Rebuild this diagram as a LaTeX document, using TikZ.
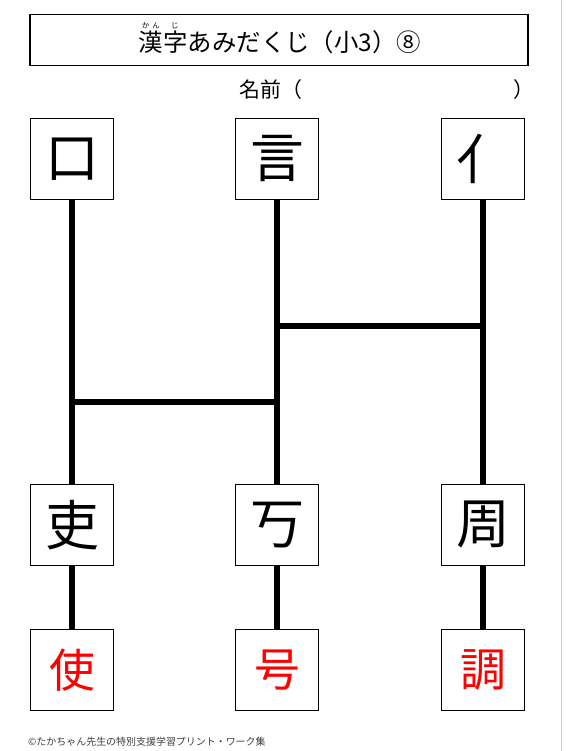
\documentclass[tikz,border=0pt]{standalone}
\usepackage{fontspec}
\setmainfont{Noto Sans CJK JP}
\usetikzlibrary{positioning}

\begin{document}
\begin{tikzpicture}[x=1bp,y=-1bp,
  tbox/.style={rectangle,draw=black,line width=1.2bp,minimum width=498bp,minimum height=51bp,inner sep=0pt},
  kbox/.style={rectangle,draw=black,fill=white,line width=1.4bp,minimum width=83bp,minimum height=81bp,inner sep=0pt,font=\fontsize{54}{54}\selectfont},
  abox/.style={kbox,text=red,font=\fontsize{46}{46}\selectfont},
  rail/.style={line width=6bp},
  rung/.style={line width=5.5bp}
]
  \useasboundingbox (0,0) rectangle (566,751);
  \fill[white] (0,0) rectangle (566,751);
  \draw[black!18,line width=1bp] (561,0) -- (561,751);

  % title and name
  \node[tbox](titlebox) at (279,40){};
  \node[inner sep=0pt,font=\fontsize{24.5}{24.5}\selectfont](title) at (280,42){漢字あみだくじ（小3）⑧};
  \node[anchor=south,inner sep=0pt,font=\fontsize{7.5}{7.5}\selectfont](ruby1) at ([xshift=12bp,yshift=1bp]title.north west){か\hspace{3bp}ん};
  \node[anchor=south,inner sep=0pt,font=\fontsize{7.5}{7.5}\selectfont](ruby2) at ([xshift=36bp,yshift=1bp]title.north west){じ};
  \node[anchor=west,inner sep=0pt,font=\fontsize{21}{21}\selectfont](namae) at (239,90){名前（};
  \node[anchor=west,inner sep=0pt,font=\fontsize{21}{21}\selectfont](kakko) at (513,90){）};

  % parts
  \node[kbox](kuchi) at (72,159){口};
  \node[kbox](gen)   at (277,159){言};
  \node[kbox](nin)   at (483,159){亻};
  \node[kbox](ri)    at (72,525){吏};
  \node[kbox](kou)   at (277,525){丂};
  \node[kbox](shuu)  at (483,525){周};
  % answers
  \node[abox](shi)   at (72,670){使};
  \node[abox](gou)   at (277,670){号};
  \node[abox](chou)  at (483,670){調};

  \coordinate (m1) at (277,326); \coordinate (r1) at (483,326);
  \coordinate (l2) at (72,402);  \coordinate (m2) at (277,402);

  \draw[rail](kuchi.south)--(ri.north);\draw[rail](gen.south)--(kou.north);\draw[rail](nin.south)--(shuu.north);
  \draw[rail](ri.south)--(shi.north);\draw[rail](kou.south)--(gou.north);\draw[rail](shuu.south)--(chou.north);
  \draw[rung](m1)--(r1);
  \draw[rung](l2)--(m2);

  \node[anchor=west,inner sep=0pt,text=black!75,font=\fontsize{10}{10}\selectfont](credit) at (28,742){©たかちゃん先生の特別支援学習プリント・ワーク集};
\end{tikzpicture}
\end{document}
